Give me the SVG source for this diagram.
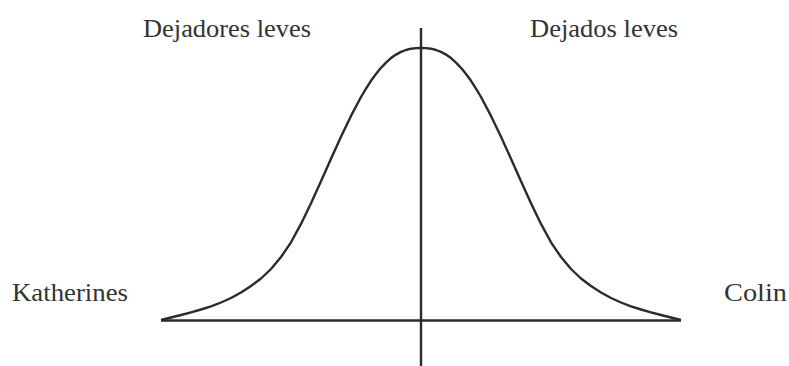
<svg xmlns="http://www.w3.org/2000/svg" width="789" height="366" viewBox="0 0 789 366">
<style>
.lbl{font-family:"Liberation Serif","Times New Roman",serif;font-size:25px;fill:#333}
.ln{stroke:#2b2b2b;stroke-width:2.4;fill:none;stroke-linecap:butt;stroke-linejoin:round}
</style>
<rect width="789" height="366" fill="#ffffff"/>
<g id="connectors">
<path id="baseline" class="ln" d="M161,320.5 L681,320.5"/>
<path id="axis" class="ln" d="M421,28 L421,366"/>
<path id="curve" class="ln" d="M161,320 L171,317.5 L181,315 L191,312.3 L201,309.5 L211,306.3 L221,302.5 L231,298 L241,292.5 L251,286 L261,278.5 L271,269 L281,257 L291,242.3 L301,223.9 L311,203.2 L321,181.3 L331,158.8 L341,136.8 L351,115.9 L361,97 L366,88.7 L371,80.8 L376,74 L381,67.8 L386,62.6 L391,58.1 L396,54.6 L401,51.9 L406,50 L411,48.7 L416,48.1 L421,48 L426,48.1 L431,48.7 L436,50 L441,51.9 L446,54.6 L451,58.1 L456,62.6 L461,67.8 L466,74 L471,80.8 L476,88.7 L481,97 L491,115.9 L501,136.8 L511,158.8 L521,181.3 L531,203.2 L541,223.9 L551,242.3 L561,257 L571,269 L581,278.5 L591,286 L601,292.5 L611,298 L621,302.5 L631,306.3 L641,309.5 L651,312.3 L661,315 L671,317.5 L681,320"/>
</g>
<g id="dejadores"><text class="lbl" x="143" y="37" textLength="168" lengthAdjust="spacingAndGlyphs">Dejadores leves</text></g>
<g id="dejados"><text class="lbl" x="530" y="37" textLength="148" lengthAdjust="spacingAndGlyphs">Dejados leves</text></g>
<g id="katherines"><text class="lbl" x="12" y="301" textLength="116" lengthAdjust="spacingAndGlyphs">Katherines</text></g>
<g id="colin"><text class="lbl" x="724" y="301" textLength="63" lengthAdjust="spacingAndGlyphs">Colin</text></g>
</svg>
